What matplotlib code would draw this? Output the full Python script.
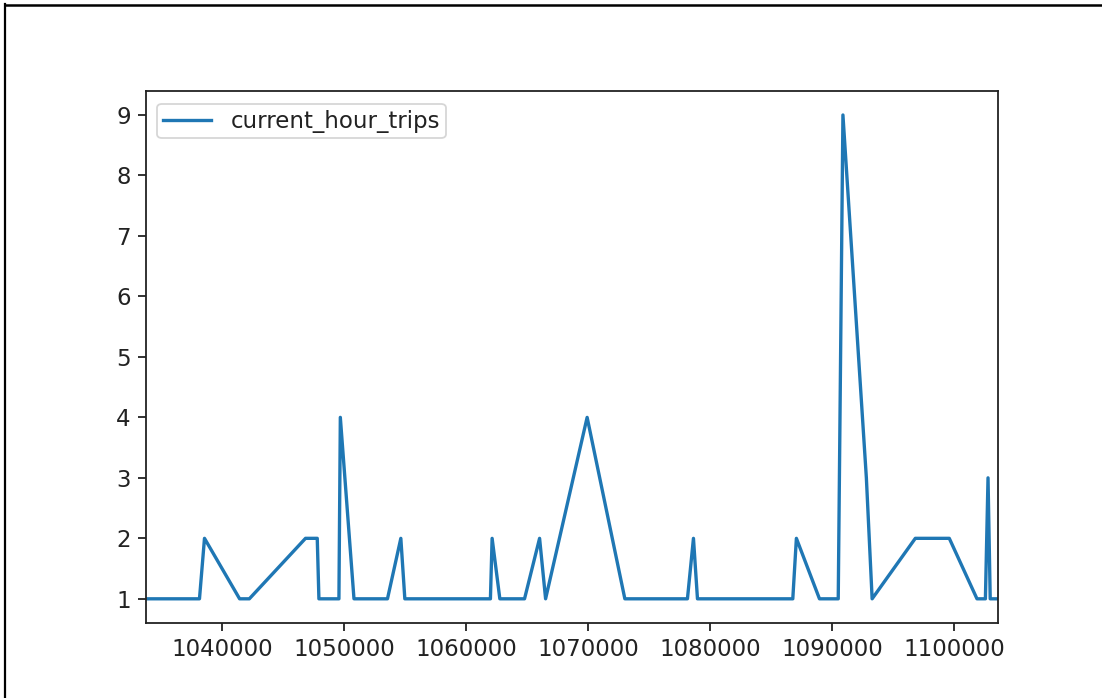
import matplotlib
matplotlib.use("Agg")
import matplotlib.pyplot as plt
from matplotlib.lines import Line2D

# Data (index -> current_hour_trips)
x_index = [1033734, 1038159, 1038570, 1041448, 1042246, 1046851, 1047813, 1047950,
           1049590, 1049705, 1050824, 1053570, 1054665, 1054993, 1062009, 1062148,
           1062781, 1064805, 1066039, 1066532, 1069937, 1073029, 1078160, 1078653,
           1078982, 1086796, 1087091, 1088983, 1090521, 1090906, 1092827, 1093300,
           1096840, 1099625, 1101895, 1102585, 1102800, 1102980, 1103618]
current_hour_trips = [1, 1, 2, 1, 1, 2, 2, 1,
                      1, 4, 1, 1, 2, 1, 1, 2,
                      1, 1, 2, 1, 4, 1, 1, 2,
                      1, 1, 2, 1, 1, 9, 3, 1,
                      2, 2, 1, 1, 3, 1, 1]
series_label = "current_hour_trips"
x_ticks = [1040000, 1050000, 1060000, 1070000, 1080000, 1090000, 1100000]
y_ticks = [1, 2, 3, 4, 5, 6, 7, 8, 9]

W, H = 1102, 698
fig = plt.figure(figsize=(W / 100, H / 100), dpi=100)
ax = fig.add_axes([145.5 / W, (H - 623) / H, 852.5 / W, 532.2 / H])

ax.plot(x_index, current_hour_trips, color="#1f77b4", linewidth=2.4, label=series_label)
ax.set_xlim(min(x_index), max(x_index))
ax.set_ylim(0.6, 9.4)
ax.set_xticks(x_ticks)
ax.set_xticklabels([str(v) for v in x_ticks])
ax.set_yticks(y_ticks)

fs = 16.5
ax.tick_params(axis="both", labelsize=fs, length=5.7, width=1.3, color="#222222",
               labelcolor="#222222", pad=5)
for s in ax.spines.values():
    s.set_linewidth(1.3)
    s.set_color("#222222")

leg = ax.legend(loc="upper left", fontsize=fs, handlelength=2.1, borderpad=0.25,
                handletextpad=0.85, framealpha=0.8, fancybox=True,
                bbox_to_anchor=(0.0, 0.997))
leg.get_frame().set_linewidth(1.3)
for t in leg.get_texts():
    t.set_color("#222222")

# Screenshot frame (left and top border)
fig.add_artist(Line2D([5 / W, 5 / W], [0, 1 - 4 / H], transform=fig.transFigure,
                      color="black", linewidth=1.6))
fig.add_artist(Line2D([5 / W, 1], [1 - 4.5 / H, 1 - 4.5 / H], transform=fig.transFigure,
                      color="black", linewidth=1.8))

fig.savefig("out.png", dpi=100)
